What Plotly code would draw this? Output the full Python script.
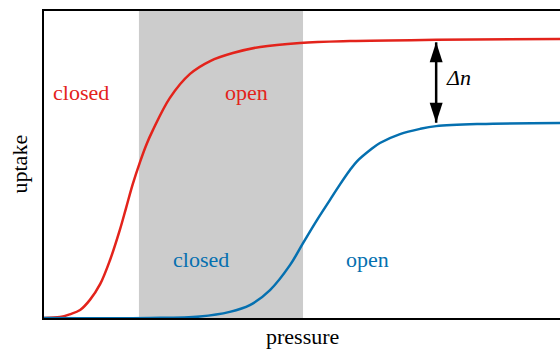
import plotly.graph_objects as go

# закрытая/открытая форма: кривые адсорбции (давление, поглощение)
red_p = [0.0, 0.31, 0.50, 0.70, 0.89, 1.09, 1.28, 1.47, 1.59, 1.72, 1.86, 1.99, 2.11, 2.44,
         2.83, 3.22, 3.66, 4.19, 4.96, 5.93, 7.60, 10.0]
red_u = [0.0, 0.003, 0.012, 0.026, 0.059, 0.111, 0.189, 0.287, 0.358, 0.436, 0.508, 0.567,
         0.612, 0.717, 0.795, 0.837, 0.863, 0.883, 0.896, 0.902, 0.906, 0.909]

blue_p = [0.0, 2.05, 3.02, 3.60, 3.99, 4.38, 4.77, 5.02, 5.29, 5.54, 5.74, 5.93, 6.07,
          6.32, 6.51, 6.90, 7.29, 7.60, 8.45, 10.0]
blue_u = [0.0, 0.0, 0.005, 0.020, 0.042, 0.091, 0.173, 0.244, 0.319, 0.384, 0.436, 0.482, 0.511,
          0.547, 0.570, 0.599, 0.616, 0.625, 0.632, 0.635]

# серая полоса (область перехода)
band = [1.84, 5.02]

# стрелка Δn
arrow_p = [7.60, 7.60]
arrow_u = [0.898, 0.636]

RED = '#e3231b'
BLUE = '#0570b0'
FONT = 'Liberation Serif, DejaVu Serif, serif'

fig = go.Figure()

fig.add_vrect(x0=band[0], x1=band[1], fillcolor='#cccccc', line_width=0, layer='below')

fig.add_trace(go.Scatter(x=red_p, y=red_u, mode='lines', line_shape='spline',
                         line=dict(color=RED, width=2.5)))
fig.add_trace(go.Scatter(x=blue_p, y=blue_u, mode='lines', line_shape='spline',
                         line=dict(color=BLUE, width=2.5)))

# двусторонняя стрелка
fig.add_trace(go.Scatter(x=arrow_p, y=arrow_u, mode='lines+markers',
                         line=dict(color='black', width=2.5),
                         marker=dict(symbol='arrow', size=21, angle=[0, 180],
                                     color='black', line_width=0)))

labels = [
    (0.72, 0.733, 'closed', RED),
    (3.93, 0.733, 'open', RED),
    (3.04, 0.189, 'closed', BLUE),
    (6.26, 0.189, 'open', BLUE),
]
for x, y, t, c in labels:
    fig.add_annotation(x=x, y=y, text=t, showarrow=False,
                       font=dict(family=FONT, size=22, color=c))

fig.add_annotation(x=7.76, y=0.785, text='<i>Δn</i>', showarrow=False, xanchor='left',
                   font=dict(family=FONT, size=22, color='black'))

# подписи осей
fig.add_annotation(x=0.5, y=0, xref='paper', yref='paper', text='pressure', showarrow=False,
                   xanchor='center', yanchor='middle', yshift=-18,
                   font=dict(family=FONT, size=22, color='black'))
fig.add_annotation(x=0, y=0.5, xref='paper', yref='paper', text='uptake', showarrow=False,
                   textangle=-90, xanchor='center', yanchor='middle', xshift=-25,
                   font=dict(family=FONT, size=22, color='black'))

fig.update_layout(width=560, height=349, showlegend=False,
                  margin=dict(l=44, r=0, t=11, b=31),
                  plot_bgcolor='white', paper_bgcolor='white')
fig.update_xaxes(range=[0, 10], showgrid=False, zeroline=False, showticklabels=False,
                 ticks='', showline=True, linecolor='black', linewidth=1.5, mirror=True)
fig.update_yaxes(range=[0, 1], showgrid=False, zeroline=False, showticklabels=False,
                 ticks='', showline=True, linecolor='black', linewidth=1.5)

fig.write_html("out.html", config={'displayModeBar': False},
               post_script="document.body.style.margin='0';")
